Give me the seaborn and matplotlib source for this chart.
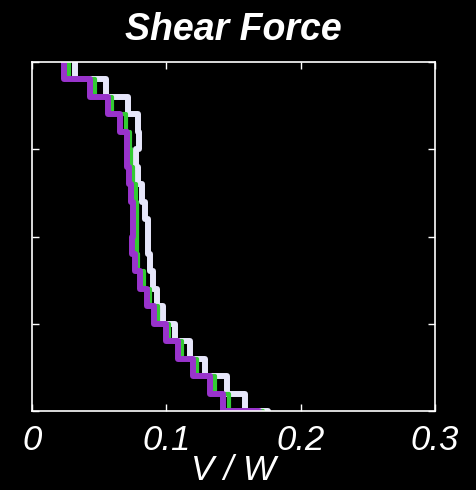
"""
Story shear force profiles (MATLAB-style stairs on black background).
"""

import numpy as np
import pandas as pd
import matplotlib
matplotlib.use("Agg")
import matplotlib.pyplot as plt
import seaborn as sns

# story levels, top (20) to ground (1); each value holds from level to level-1
levels = list(range(20, 0, -1))

# normalised shear V/W per story, top to bottom, then the base value
shear_white = [0.0320, 0.0551, 0.0715, 0.0789, 0.0797, 0.0774, 0.0789, 0.0819, 0.0841, 0.0864,
               0.0864, 0.0878, 0.0901, 0.0931, 0.0975, 0.1065, 0.1176, 0.1288, 0.1452, 0.1586]
shear_green = [0.0275, 0.0469, 0.0596, 0.0700, 0.0730, 0.0737, 0.0752, 0.0774, 0.0782, 0.0782,
               0.0782, 0.0789, 0.0834, 0.0878, 0.0938, 0.1020, 0.1117, 0.1228, 0.1362, 0.1467]
shear_purple = [0.0238, 0.0432, 0.0566, 0.0655, 0.0707, 0.0707, 0.0722, 0.0737, 0.0752, 0.0752,
                0.0744, 0.0767, 0.0804, 0.0856, 0.0908, 0.0998, 0.1087, 0.1199, 0.1325, 0.1422]
base_shear = {"white": 0.1757, "green": 0.1720, "purple": 0.1690}

xticks = [0, 0.1, 0.2, 0.3]
xtick_labels = ["0", "0.1", "0.2", "0.3"]
yticks = [0, 5, 10, 15, 20]


def stairs(values, base):
    """Build a step path from the per-story values."""
    xs, ys = [], []
    for lev, v in zip(levels, values):
        xs += [v, v]
        ys += [lev, lev - 1]
    xs.append(base)
    ys.append(0)
    return pd.DataFrame({"V/W": xs, "level": ys})


sns.set_theme(style="dark")
plt.rcParams.update({
    "font.family": ["Liberation Sans", "DejaVu Sans"],
    "figure.facecolor": "black",
    "axes.facecolor": "black",
})

fig = plt.figure(figsize=(4.77, 4.90), dpi=100)
ax = fig.add_axes([32 / 477, 1 - 411 / 490, (435 - 32) / 477, (411 - 62) / 490])

series = [
    ("white", shear_white, "#e6e6fa", 4.3),
    ("green", shear_green, "#33cc33", 3.0),
    ("purple", shear_purple, "#9933cc", 4.3),
]
for name, vals, color, lw in series:
    df = stairs(vals, base_shear[name])
    sns.lineplot(data=df, x="V/W", y="level", sort=False, estimator=None,
                 color=color, linewidth=lw, ax=ax)

ax.set_xlim(0, 0.3)
ax.set_ylim(0, 20)
ax.set_xticks(xticks)
ax.set_xticklabels(xtick_labels, fontsize=25, fontstyle="italic", color="white")
ax.set_yticks(yticks)
ax.set_yticklabels([])
ax.tick_params(direction="in", length=5, width=1, color="white",
               top=True, right=True, bottom=True, left=True, pad=9)
ax.grid(False)
for sp in ax.spines.values():
    sp.set_color("white")
    sp.set_linewidth(1.2)

ax.set_xlabel("V / W", fontsize=25, fontstyle="italic", color="white", labelpad=-2)
ax.set_ylabel("")
ax.set_title("Shear Force", fontsize=27, fontweight="bold", fontstyle="italic",
             color="white", pad=16)

fig.savefig("out.png", dpi=100, facecolor="black")
